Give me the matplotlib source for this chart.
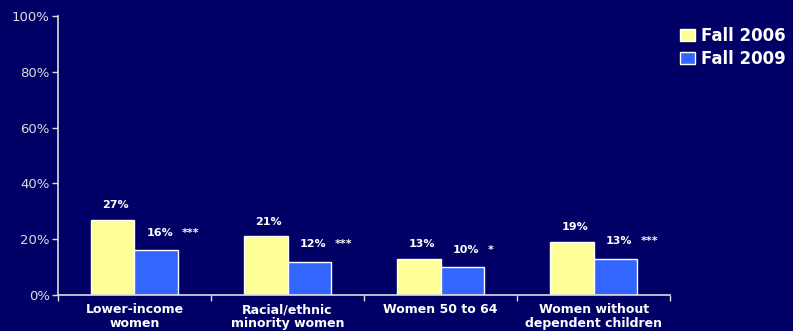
import numpy as np
from matplotlib import pyplot as plt

categories = ["Lower-income\nwomen", "Racial/ethnic\nminority women",
              "Women 50 to 64", "Women without\ndependent children"]
fall_2006 = [27, 21, 13, 19]
fall_2009 = [16, 12, 10, 13]
sig_2009 = ["***", "***", "*", "***"]
yticks = [0, 20, 40, 60, 80, 100]

bg = "#000066"
yellow = "#FFFF99"
blue = "#3366FF"

plt.rcParams["font.family"] = ["DejaVu Sans"]

fig = plt.figure(figsize=(7.93, 3.31), dpi=100, facecolor=bg)
ax = fig.add_axes([0.0731, 0.1088, 0.772, 0.8429], facecolor=bg)

x = np.arange(len(categories))
w = 0.285
b1 = ax.bar(x - w / 2, fall_2006, w, color=yellow, edgecolor="white",
            linewidth=1, label="Fall 2006")
b2 = ax.bar(x + w / 2, fall_2009, w, color=blue, edgecolor="white",
            linewidth=1, label="Fall 2009")

lbl = dict(textcoords="offset points", va="bottom", color="white",
           fontsize=8, fontweight="bold")
for i in range(len(categories)):
    ax.annotate(f"{fall_2006[i]}%", (x[i] - w / 2, fall_2006[i]),
                xytext=(2, 7), ha="center", **lbl)
    ax.annotate(f"{fall_2009[i]}%", (x[i] + w / 2, fall_2009[i]),
                xytext=(-7, 9), ha="left", **lbl)
    ax.annotate(sig_2009[i], (x[i] + w / 2, fall_2009[i]),
                xytext=(18, 9), ha="left", **lbl)

ax.set_xlim(-0.5, len(categories) - 0.5)
ax.set_ylim(0, 100)
ax.set_yticks(yticks)
ax.set_yticklabels([f"{t}%" for t in yticks])
ax.tick_params(axis="y", colors="#DDDDDD", labelsize=9.5, length=4, width=1,
               pad=2)

# category names centred, tick marks on the group boundaries
ax.set_xticks(np.arange(len(categories) + 1) - 0.5)
ax.set_xticklabels([])
ax.set_xticks(x, minor=True)
ax.set_xticklabels(categories, minor=True, color="white", fontsize=9,
                   fontweight="bold", linespacing=1.1)
ax.tick_params(axis="x", which="major", colors="#DDDDDD", length=4, width=1)
ax.tick_params(axis="x", which="minor", length=0, pad=6)

for side in ["top", "right"]:
    ax.spines[side].set_visible(False)
for side in ["left", "bottom"]:
    ax.spines[side].set_color("#DDDDDD")
    ax.spines[side].set_linewidth(1.2)

leg = fig.legend(handles=[b1, b2], loc="upper left",
                 bbox_to_anchor=(0.857, 0.918), frameon=False,
                 prop={"weight": "bold", "size": 12}, labelcolor="white",
                 handlelength=0.9, handleheight=0.7, handletextpad=0.4,
                 labelspacing=0.3, borderaxespad=0, borderpad=0)

fig.savefig("out.png", dpi=100, facecolor=bg)
